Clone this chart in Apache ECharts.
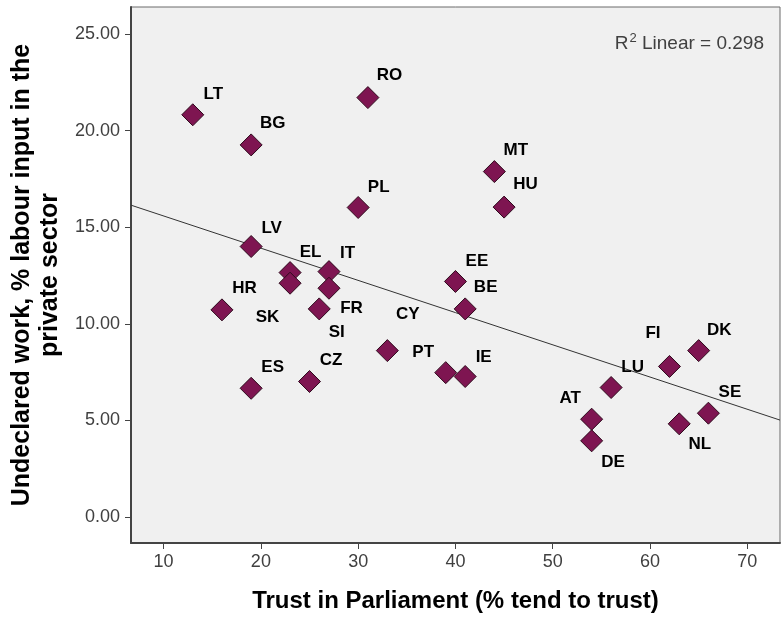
<!DOCTYPE html>
<html>
<head>
<meta charset="utf-8">
<script src="https://cdn.jsdelivr.net/npm/echarts@6/dist/echarts.min.js"></script>
<style>html,body{margin:0;padding:0;background:#fff;}#main{width:782px;height:619px;}</style>
</head>
<body>
<div id="main"></div>
<script>
// Data
const countries = ['LT','BG','RO','PL','LV','EL','SK','IT','FR','HR','SI','ES','CZ','CY','PT','IE','BE','EE','MT','HU','LU','AT','DE','FI','DK','NL','SE'];
const trust =     [13, 19, 31, 30, 19, 23, 23, 27, 27, 16, 26, 19, 25, 33, 39, 41, 41, 40, 44, 45, 56, 54, 54, 62, 65, 63, 66];
const undeclared = [20.82,19.26,21.71,16.02,14.00,12.65,12.10,12.70,11.84,10.72,10.77,6.66,7.01,8.61,7.47,7.27,10.77,12.19,17.88,16.04,6.70,5.06,3.94,7.79,8.61,4.82,5.37];
const xTicks = [10,20,30,40,50,60,70];
const yTicks = [0,5,10,15,20,25];
const rSquaredText = '0.298';

// label placement (pixel offsets from marker centre)
const labelOffsets = {
  LT:[21,-20], BG:[22,-21], RO:[22,-22], PL:[21,-20], LV:[21,-18], EL:[21,-20],
  SK:[-22,35], IT:[19,-18], FR:[23,21], HR:[23,-21], SI:[18,24], ES:[22,-20],
  CZ:[22,-21], CY:[21,-36], PT:[-22,-20], IE:[19,-19], BE:[21,-21], EE:[22,-20],
  MT:[22,-21], HU:[22,-22], LU:[22,-20], AT:[-21,-20], DE:[22,22], FI:[-16,-33],
  DK:[21,-20], NL:[21,21], SE:[22,-20]
};

const X_MIN = 6.65, X_MAX = 73.36, Y_MIN = -1.35, Y_MAX = 26.4;
const SYM = 22;

// least squares fit line
const n = trust.length;
const mx = trust.reduce((a,b)=>a+b,0)/n;
const my = undeclared.reduce((a,b)=>a+b,0)/n;
let sxy = 0, sxx = 0;
for (let i=0;i<n;i++){ sxy += (trust[i]-mx)*(undeclared[i]-my); sxx += (trust[i]-mx)*(trust[i]-mx); }
const slope = sxy/sxx, intercept = my - slope*mx;
const fitData = [[X_MIN, intercept + slope*X_MIN], [X_MAX, intercept + slope*X_MAX]];

const pts = countries.map((c,i)=>({
  name:c, value:[trust[i], undeclared[i]],
  label:{position:[SYM/2 + labelOffsets[c][0], SYM/2 + labelOffsets[c][1]]}
}));

const FONT = 'Liberation Sans, Arial, sans-serif';
const chart = echarts.init(document.getElementById('main'), null, {renderer:'canvas'});
const tickFont = {fontFamily:FONT, fontSize:18, color:'#404040'};
chart.setOption({
  animation:false,
  backgroundColor:'#ffffff',
  grid:{left:131, right:2, top:7, bottom:76, outerBoundsMode:'none', containLabel:false,
    show:true, backgroundColor:'#f0f0f0', borderColor:'#6a6a6a', borderWidth:1},
  xAxis:{
    type:'value', min:X_MIN, max:X_MAX,
    name:'Trust in Parliament (% tend to trust)', nameLocation:'middle', nameGap:46,
    nameTextStyle:{fontFamily:FONT, fontSize:24, fontWeight:'bold', color:'#000'},
    splitLine:{show:false},
    axisLine:{show:true, onZero:false, lineStyle:{color:'#444', width:2}},
    axisTick:{show:true, length:6, lineStyle:{color:'#444', width:1}, customValues:xTicks},
    axisLabel:Object.assign({margin:10, customValues:xTicks, formatter:v=>String(v)}, tickFont)
  },
  yAxis:{
    type:'value', min:Y_MIN, max:Y_MAX,
    name:'Undeclared work, % labour input in the\nprivate sector', nameLocation:'middle', nameGap:49, nameRotate:90,
    nameTextStyle:{fontFamily:FONT, fontSize:25, fontWeight:'bold', color:'#000', lineHeight:28, align:'center'},
    splitLine:{show:false},
    axisLine:{show:true, onZero:false, lineStyle:{color:'#444', width:2}},
    axisTick:{show:true, length:6, lineStyle:{color:'#444', width:1}, customValues:yTicks},
    axisLabel:Object.assign({margin:11, customValues:yTicks, formatter:v=>v.toFixed(2)}, tickFont)
  },
  series:[
    {
      type:'line', data:fitData, showSymbol:false, symbol:'none', silent:true,
      lineStyle:{color:'#333', width:1}, z:2
    },
    {
      type:'scatter', data:pts, symbol:'diamond', symbolSize:[SYM,SYM], z:3,
      itemStyle:{color:'#7e1551', borderColor:'#2e0a1c', borderWidth:1, opacity:1},
      label:{show:true, formatter:'{b}', color:'#000', fontFamily:FONT,
        fontSize:17, fontWeight:'bold', textBorderWidth:0, align:'center', verticalAlign:'middle'},
      labelLayout:{hideOverlap:false}
    }
  ],
  graphic:[
    {type:'text', right:18, top:32, z:10, style:{
      text:'{r|R}{s|2}{r| Linear = '+rSquaredText+'}',
      rich:{
        r:{fontFamily:FONT, fontSize:19, fill:'#404040', verticalAlign:'bottom'},
        s:{fontFamily:FONT, fontSize:13, fill:'#404040', verticalAlign:'bottom', padding:[0,0,8,1]}
      }
    }}
  ]
});
</script>
</body>
</html>
